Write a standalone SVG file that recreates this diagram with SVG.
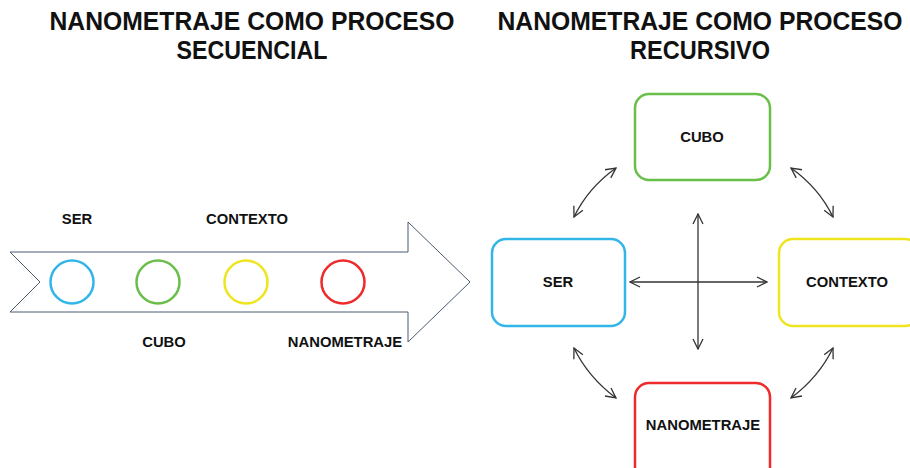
<svg xmlns="http://www.w3.org/2000/svg" width="910" height="468" viewBox="0 0 910 468">
<defs>
<style>
.t{font-family:"Liberation Sans",Arial,sans-serif;font-weight:bold;fill:#111;text-anchor:middle}
.title{font-size:25px}
.lbl{font-size:14.8px}
.box{fill:#fff;stroke-width:2.5}
.circ{fill:none;stroke-width:2.5}
.con{fill:none;stroke:#333;stroke-width:1.3}
</style>
<marker id="ah" viewBox="0 0 12 12" refX="11" refY="6" markerWidth="12" markerHeight="12" markerUnits="userSpaceOnUse" orient="auto-start-reverse">
<path d="M1,1 L11,6 L1,11" fill="none" stroke="#333" stroke-width="1.3"/>
</marker>
</defs>
<rect width="910" height="468" fill="#fff"/>

<g id="titles">
<text class="t title" x="252" y="30" textLength="405" lengthAdjust="spacingAndGlyphs">NANOMETRAJE COMO PROCESO</text>
<text class="t title" x="252" y="59" textLength="151" lengthAdjust="spacingAndGlyphs">SECUENCIAL</text>
<text class="t title" x="700" y="30" textLength="405" lengthAdjust="spacingAndGlyphs">NANOMETRAJE COMO PROCESO</text>
<text class="t title" x="700" y="59" textLength="140" lengthAdjust="spacingAndGlyphs">RECURSIVO</text>
</g>

<g id="seq-arrow">
<path d="M10,252 L408,252 L408,222 L470,282 L408,342 L408,312 L10,312 L40,282 Z" fill="#fff" stroke="#4a5a70" stroke-width="1"/>
</g>
<g id="seq-ser">
<circle class="circ" cx="72" cy="282" r="21.5" stroke="#33b5e8"/>
<text class="t lbl" x="77" y="224">SER</text>
</g>
<g id="seq-cubo">
<circle class="circ" cx="158" cy="282" r="21.5" stroke="#6abf4b"/>
<text class="t lbl" x="164" y="347">CUBO</text>
</g>
<g id="seq-contexto">
<circle class="circ" cx="246" cy="282" r="21.5" stroke="#eee520"/>
<text class="t lbl" x="247" y="224">CONTEXTO</text>
</g>
<g id="seq-nanometraje">
<circle class="circ" cx="343" cy="282" r="21.5" stroke="#ee2a2a"/>
<text class="t lbl" x="345" y="347">NANOMETRAJE</text>
</g>

<g id="connectors">
<line class="con" x1="698" y1="214" x2="698" y2="349" marker-start="url(#ah)" marker-end="url(#ah)"/>
<line class="con" x1="630" y1="282" x2="767" y2="282" marker-start="url(#ah)" marker-end="url(#ah)"/>
<path class="con" d="M616,168 Q588,188 574,217" marker-start="url(#ah)" marker-end="url(#ah)"/>
<path class="con" d="M791,168 Q819,188 833,217" marker-start="url(#ah)" marker-end="url(#ah)"/>
<path class="con" d="M574,348 Q588,377 616,398" marker-start="url(#ah)" marker-end="url(#ah)"/>
<path class="con" d="M833,348 Q819,377 791,398" marker-start="url(#ah)" marker-end="url(#ah)"/>
</g>

<g id="node-cubo">
<rect class="box" x="635" y="94" width="135" height="86" rx="14" stroke="#6abf4b"/>
<text class="t lbl" x="702" y="142">CUBO</text>
</g>
<g id="node-ser">
<rect class="box" x="492" y="239" width="133" height="87" rx="14" stroke="#33b5e8"/>
<text class="t lbl" x="558" y="287">SER</text>
</g>
<g id="node-contexto">
<rect class="box" x="779" y="239" width="140" height="87" rx="14" stroke="#eee520"/>
<text class="t lbl" x="847" y="287">CONTEXTO</text>
</g>
<g id="node-nanometraje">
<rect class="box" x="635" y="383" width="135" height="100" rx="14" stroke="#ee2a2a"/>
<text class="t lbl" x="703" y="430">NANOMETRAJE</text>
</g>
</svg>
